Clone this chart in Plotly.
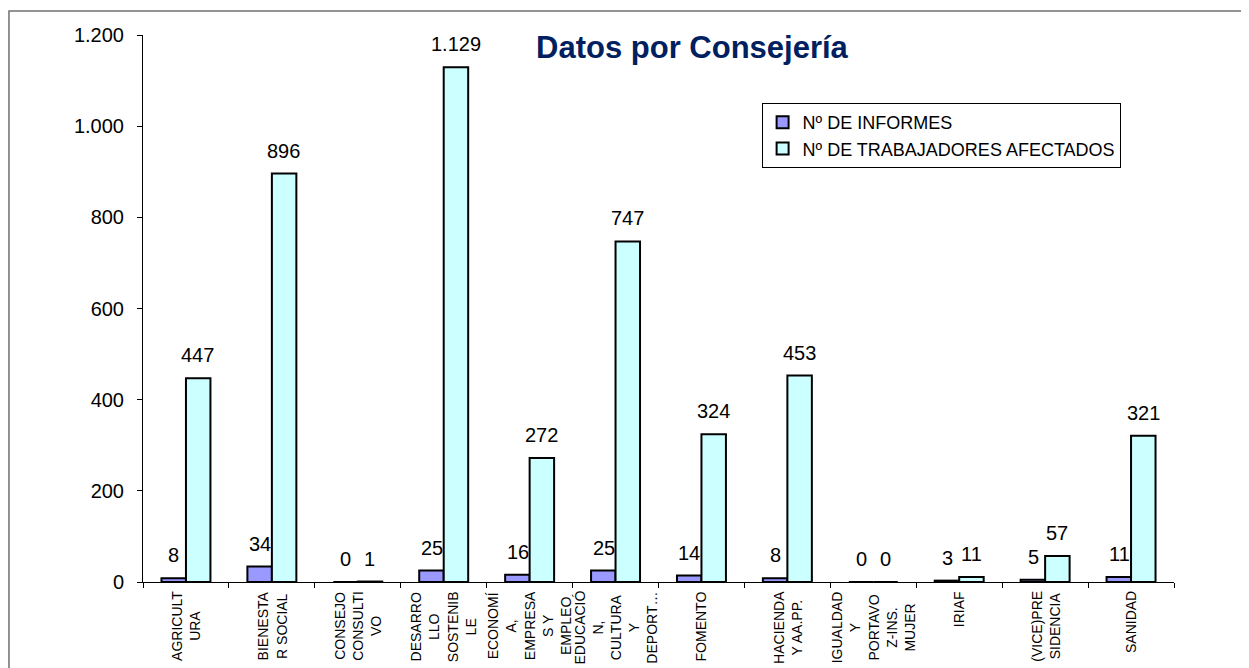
import plotly.graph_objects as go

# --- data -----------------------------------------------------------------------
categories = [
    "AGRICULTURA", "BIENESTAR SOCIAL", "CONSEJO CONSULTIVO", "DESARROLLO SOSTENIBLE",
    "ECONOMÍA, EMPRESAS Y EMPLEO", "EDUCACIÓN, CULTURA Y DEPORTES", "FOMENTO",
    "HACIENDA Y AA.PP.", "IGUALDAD Y PORTAVOZ-INS. MUJER", "IRIAF",
    "(VICE)PRESIDENCIA", "SANIDAD",
]
# tick labels as wrapped in the original chart
tick_labels = [
    "AGRICULT<br>URA",
    "BIENESTA<br>R SOCIAL",
    "CONSEJO<br>CONSULTI<br>VO",
    "DESARRO<br>LLO<br>SOSTENIB<br>LE",
    "ECONOMÍ<br>A,<br>EMPRESA<br>S Y<br>EMPLEO",
    "EDUCACIÓ<br>N,<br>CULTURA<br>Y<br>DEPORT…",
    "FOMENTO",
    "HACIENDA<br>Y AA.PP.",
    "IGUALDAD<br>Y<br>PORTAVO<br>Z-INS.<br>MUJER",
    "IRIAF",
    "(VICE)PRE<br>SIDENCIA",
    "SANIDAD",
]
informes = [8, 34, 0, 25, 16, 25, 14, 8, 0, 3, 5, 11]
trabajadores = [447, 896, 1, 1129, 272, 747, 324, 453, 0, 11, 57, 321]

FONT = "Liberation Sans, Arial, sans-serif"
PURPLE = "#9999FF"
CYAN = "#CCFFFF"
NAVY = "#002060"


def fmt(v):
    return f"{v:,}".replace(",", ".")


fig = go.Figure()
fig.add_trace(go.Bar(x=categories, y=informes, name="Nº DE INFORMES",
                     marker=dict(color=PURPLE, line=dict(color="black", width=2))))
fig.add_trace(go.Bar(x=categories, y=trabajadores, name="Nº DE TRABAJADORES AFECTADOS",
                     marker=dict(color=CYAN, line=dict(color="black", width=2))))

# value labels above each bar (offset per series inside the group)
for series, shift in ((informes, -12), (trabajadores, 12)):
    for c, v in zip(categories, series):
        fig.add_annotation(x=c, y=v, text=fmt(v), showarrow=False, xref="x", yref="y",
                           xshift=shift, yshift=10, yanchor="bottom",
                           font=dict(family=FONT, size=20, color="black"))

# rotated category labels, lines centred like the original
for c, lbl in zip(categories, tick_labels):
    fig.add_annotation(x=c, y=0, xref="x", yref="paper", text=lbl, showarrow=False,
                       textangle=-90, align="center", xanchor="center", yanchor="top",
                       yshift=-7, font=dict(family=FONT, size=14, color="black"))

# outer chart frame
fig.add_shape(type="rect", xref="paper", yref="paper", x0=-0.13, x1=1.2, y0=-0.4, y1=1.044,
              line=dict(color="#707070", width=1.5), layer="below")

fig.update_layout(
    width=1249, height=668,
    margin=dict(l=135, r=83, t=27, b=94),
    paper_bgcolor="white", plot_bgcolor="white",
    separators=",.",
    barmode="group", bargap=0.43, bargroupgap=0,
    font=dict(family=FONT, color="black"),
    title=dict(text="<b>Datos por Consejería</b>", x=0.5476, xanchor="center",
               y=0.9416, yanchor="middle", font=dict(family=FONT, size=31, color=NAVY)),
    legend=dict(x=0.6, y=0.8757, xanchor="left", yanchor="top",
                bordercolor="black", borderwidth=1, bgcolor="white",
                font=dict(family=FONT, size=18), tracegroupgap=0),
    showlegend=True,
)
fig.update_xaxes(showline=True, linecolor="black", linewidth=1, ticks="outside",
                 tickson="boundaries", ticklen=5, tickcolor="black",
                 showticklabels=False, showgrid=False)
fig.update_yaxes(range=[0, 1200], dtick=200, tickformat=",d", showline=True,
                 linecolor="black", linewidth=1, ticks="outside", ticklen=5,
                 tickcolor="black", tickfont=dict(family=FONT, size=20),
                 ticklabelstandoff=9, showgrid=False, zeroline=False)

fig.write_html("out.html")
